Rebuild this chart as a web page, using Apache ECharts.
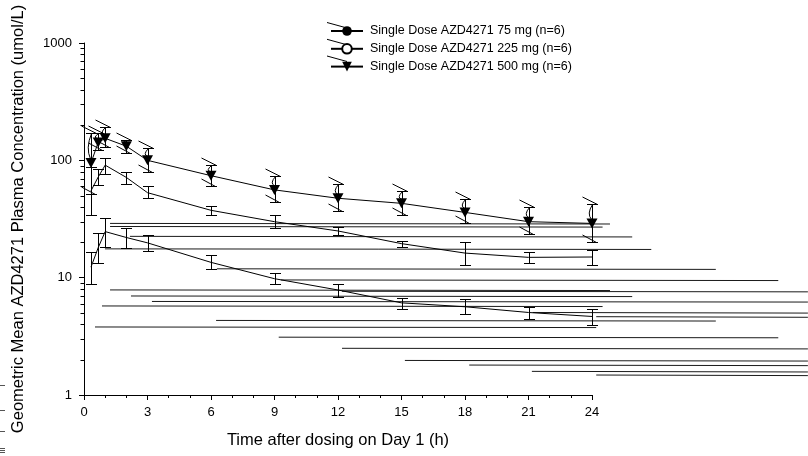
<!DOCTYPE html>
<html><head><meta charset="utf-8">
<script src="https://cdn.jsdelivr.net/npm/echarts@6/dist/echarts.min.js"></script>
<style>html,body{margin:0;padding:0;background:#fff}#c{width:808px;height:456px}</style>
</head><body><div id="c"></div>
<script>
// ---- data ----
const times = [0.33, 0.67, 1, 2, 3, 6, 9, 12, 15, 18, 21, 24];
const seriesNames = ['Single Dose AZD4271 75 mg (n=6)', 'Single Dose AZD4271 225 mg (n=6)', 'Single Dose AZD4271 500 mg (n=6)'];
const mean75  = [12.3, 18, 24.7, 22, 19.8, 13.5, 9.8, 7.85, 6.1, 5.65, 5.05, 4.67];
const low75   = [8.8, 13.4, 18.4, 18, 16.9, 11.9, 8.8, 6.9, 5.4, 4.9, 4.45, 3.95];
const high75  = [16.7, 24.2, 32.5, 26.7, 23.1, 15.6, 11, 8.85, 6.75, 6.55, 5.65, 5.4];
const mean225 = [55, 72, 91, 71.5, 53, 37.5, 30, 25, 19.5, 16.2, 14.9, 15];
const low225  = [34, 62, 77, 63, 47.5, 34.3, 26.7, 23, 18.4, 12.8, 13.3, 12.8];
const high225 = [88, 84, 104, 80, 60, 40.5, 34.3, 27, 20.7, 20.3, 16.7, 17.2];
const mean500 = [95, 142, 154, 132, 100, 74, 56, 47.5, 43, 36, 30, 29];
const low500  = [52, 122, 131, 115, 80, 60, 44.5, 37.3, 34, 29, 23.5, 20.3];
const high500 = [170, 172, 194, 150, 127, 92, 73, 62.5, 55, 47, 40, 42.5];
const yMinorTicks = [2,3,4,5,6,7,8,9,20,30,40,50,60,70,80,90,200,300,400,500,600,700,800,900];
// stray horizontal strokes present in the reference (start time, end time, level)
const strayStart = [1.23, 1.23, 2.17, 0.99, 6.28, 9.3, 1.23, 12.19, 2.22, 3.21, 0.85, 21.2, 24.2, 6.24, 0.52, 9.2, 12.19, 15.16, 18.2, 21.16, 24.2];
const strayEnd   = [24.85, 24.5, 25.9, 26.8, 29.85, 32.8, 24.85, 34.2, 25.9, 34.2, 24.5, 34.2, 34.2, 29.85, 24.2, 32.8, 34.2, 34.2, 34.2, 34.2, 34.2];
const strayLevel = [29.0, 27.3, 22.5, 17.6, 11.9, 9.56, 7.86, 7.66, 6.98, 6.27, 5.74, 5.05, 4.65, 4.32, 3.80, 3.11, 2.50, 1.97, 1.80, 1.59, 1.48];

const FONT = 'Liberation Sans, Arial, sans-serif';
const INK = '#000';
const crisp = v => Math.round(v) + 0.5;

function errRender(decor) {
  return function (params, api) {
    const t = api.value(0), lo = api.value(1), hi = api.value(2), m = api.value(3);
    const pl = api.coord([t, lo]), ph = api.coord([t, hi]), pm = api.coord([t, m]);
    const x = crisp(pl[0]), yb = crisp(pl[1]), yt = crisp(ph[1]);
    const w = 5.5;
    const st = { stroke: INK, lineWidth: 1, fill: null };
    const ch = [
      { type: 'line', shape: { x1: x, y1: yt, x2: x, y2: yb }, style: st },
      { type: 'line', shape: { x1: x - w, y1: yt, x2: x + w, y2: yt }, style: st },
      { type: 'line', shape: { x1: x - w, y1: yb, x2: x + w, y2: yb }, style: st }
    ];
    if (decor) {
      ch.push({ type: 'line', shape: { x1: x - 10, y1: yt - 7.5, x2: x + 5, y2: yt }, style: st });
      ch.push({ type: 'line', shape: { x1: x - 10, y1: yb - 7.5, x2: x + 4, y2: yb }, style: st });
      ch.push({ type: 'bezierCurve', shape: { x1: x, y1: yt, x2: x - 1, y2: pm[1] - 4, cpx1: x - 6, cpy1: (yt + pm[1]) / 2 }, style: st });
    }
    return { type: 'group', children: ch };
  };
}
function errData(mean, low, high) {
  return times.map((t, i) => [t, low[i], high[i], mean[i]]);
}

const chart = echarts.init(document.getElementById('c'), null, { renderer: 'canvas' });
const triPath = 'path://M0,0L20,0L10,18Z';

const staticGraphics = [
  { type: 'line', shape: { x1: 327, y1: 22.5, x2: 347, y2: 28 }, style: { stroke: INK, lineWidth: 1 } },
  { type: 'line', shape: { x1: 327, y1: 39.3, x2: 347, y2: 44.8 }, style: { stroke: INK, lineWidth: 1 } },
  { type: 'line', shape: { x1: 327, y1: 56, x2: 347, y2: 61.5 }, style: { stroke: INK, lineWidth: 1 } },
  { type: 'line', shape: { x1: 0, y1: 385.5, x2: 5, y2: 385.5 }, style: { stroke: '#555', lineWidth: 1 } },
  { type: 'line', shape: { x1: 0, y1: 410.5, x2: 5, y2: 410.5 }, style: { stroke: '#555', lineWidth: 1 } },
  { type: 'line', shape: { x1: 0, y1: 431.5, x2: 5, y2: 431.5 }, style: { stroke: '#555', lineWidth: 1 } },
  { type: 'line', shape: { x1: 0, y1: 448.5, x2: 5, y2: 448.5 }, style: { stroke: '#555', lineWidth: 1 } },
  { type: 'line', shape: { x1: 0, y1: 450.5, x2: 5, y2: 450.5 }, style: { stroke: '#555', lineWidth: 1 } },
  { type: 'line', shape: { x1: 0, y1: 452.5, x2: 5, y2: 452.5 }, style: { stroke: '#555', lineWidth: 1 } }
];

chart.setOption({
  animation: false,
  backgroundColor: '#fff',
  textStyle: { fontFamily: FONT, color: INK },
  grid: { left: 84, right: 216, top: 43, bottom: 61, containLabel: false, outerBoundsMode: 'none' },
  legend: {
    data: seriesNames,
    orient: 'vertical',
    left: 330, top: 24.5,
    itemWidth: 32, itemHeight: 12, itemGap: 4.8,
    textStyle: { fontFamily: FONT, fontSize: 12.5, color: INK, padding: [0, 0, 0, 2] },
    selectedMode: false,
    padding: 0
  },
  xAxis: {
    type: 'value', min: 0, max: 24, interval: 3,
    name: 'Time after dosing on Day 1 (h)', nameLocation: 'middle', nameGap: 37,
    nameTextStyle: { fontFamily: FONT, fontSize: 16.5, color: INK },
    axisLine: { show: true, lineStyle: { color: INK, width: 1 } },
    axisTick: { show: true, length: 5, lineStyle: { color: INK } },
    minorTick: { show: true, splitNumber: 3, length: 3, lineStyle: { color: INK } },
    axisLabel: { fontFamily: FONT, fontSize: 13, color: INK, margin: 11 },
    splitLine: { show: false }
  },
  yAxis: {
    type: 'log', logBase: 10, min: 1, max: 1000,
    name: 'Geometric Mean AZD4271 Plasma Concentration (umol/L)', nameLocation: 'middle', nameGap: 57, nameRotate: 90,
    nameTextStyle: { fontFamily: FONT, fontSize: 16.5, color: INK },
    axisLine: { show: true, lineStyle: { color: INK, width: 1 } },
    axisTick: { show: true, length: 5, lineStyle: { color: INK } },
    axisLabel: { fontFamily: FONT, fontSize: 13, color: INK, margin: 12,
      formatter: v => String(Math.round(v)) },
    splitLine: { show: false }
  },
  series: [
    { name: seriesNames[0], type: 'line', data: times.map((t, i) => [t, mean75[i]]),
      symbol: 'circle', showSymbol: false, symbolSize: 10,
      lineStyle: { color: INK, width: 1 }, itemStyle: { color: INK }, z: 3 },
    { name: seriesNames[1], type: 'line', data: times.map((t, i) => [t, mean225[i]]),
      symbol: 'emptyCircle', showSymbol: false, symbolSize: 10,
      lineStyle: { color: INK, width: 1 }, itemStyle: { color: INK }, z: 3 },
    { name: seriesNames[2], type: 'line', data: times.map((t, i) => [t, mean500[i]]),
      symbol: triPath, symbolSize: [11, 10],
      lineStyle: { color: INK, width: 1 }, itemStyle: { color: INK }, z: 4 },
    { name: 'err75', type: 'custom', renderItem: errRender(false), data: errData(mean75, low75, high75),
      encode: { x: 0, y: [1, 2] }, z: 3, silent: true },
    { name: 'err225', type: 'custom', renderItem: errRender(false), data: errData(mean225, low225, high225),
      encode: { x: 0, y: [1, 2] }, z: 3, silent: true },
    { name: 'err500', type: 'custom', renderItem: errRender(true), data: errData(mean500, low500, high500),
      encode: { x: 0, y: [1, 2] }, z: 3, silent: true },
    { name: 'strays', type: 'custom', clip: false, silent: true, z: 2,
      data: strayLevel.map((v, i) => [strayStart[i], strayEnd[i], v]),
      encode: { x: [0, 1], y: 2 },
      renderItem: function (params, api) {
        const a = api.coord([api.value(0), api.value(2)]);
        const b = api.coord([api.value(1), api.value(2)]);
        return { type: 'line', shape: { x1: a[0], y1: a[1], x2: b[0], y2: b[1] + 0.6 },
          style: { stroke: '#1a1a1a', lineWidth: 1 } };
      } }
  ],
  graphic: staticGraphics
});

// log-axis minor ticks, positioned through the axis scale
const minorGraphics = yMinorTicks.map(v => {
  const p = chart.convertToPixel({ gridIndex: 0 }, [0, v]);
  const x = crisp(p[0]), y = crisp(p[1]);
  return { type: 'line', shape: { x1: x - 4, y1: y, x2: x, y2: y }, style: { stroke: INK, lineWidth: 1 }, z: 100 };
});
chart.setOption({ graphic: staticGraphics.concat(minorGraphics) });
</script>
</body></html>
